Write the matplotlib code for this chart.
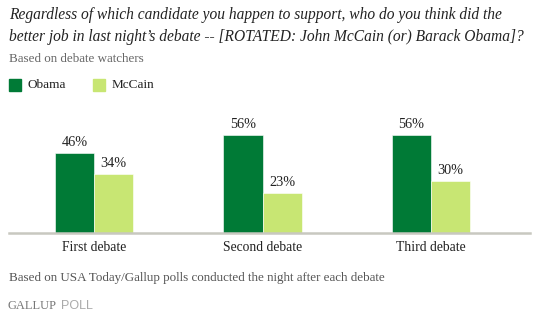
import matplotlib.pyplot as plt
import numpy as np

# data
debates = ["First debate", "Second debate", "Third debate"]
obama = [46, 56, 56]
mccain = [34, 23, 30]

dark_green = "#007a36"
light_green = "#c8e673"

plt.rcParams['font.family'] = ['Liberation Serif', 'DejaVu Serif']

fig = plt.figure(figsize=(5.34, 3.24), dpi=100)
W, H = 534, 324

def fx(px):
    return px / W

def fy(py):
    return 1 - py / H

# axes spans from the left of the baseline to its right end, top of plot area at y=110
ax = fig.add_axes([fx(9), fy(233), fx(530 - 9), (233 - 110) / H])
x = np.arange(len(debates))
w = 0.2315
ax.bar(x - w / 2, obama, w, color=dark_green, edgecolor="white", linewidth=0.4)
ax.bar(x + w / 2, mccain, w, color=light_green, edgecolor="white", linewidth=0.4)
for i in range(len(debates)):
    ax.text(x[i] - w / 2, obama[i] + 2.2, f"{obama[i]}%", ha="center", va="bottom", fontsize=10.3, color="#222222")
    ax.text(x[i] + w / 2, mccain[i] + 2.2, f"{mccain[i]}%", ha="center", va="bottom", fontsize=10.3, color="#222222")

ax.set_xlim(-0.504, 2.587)
ax.set_ylim(0, (233 - 110) / 1.75)
for s in ["top", "right", "left"]:
    ax.spines[s].set_visible(False)
ax.spines["bottom"].set_color("#c8c8c0")
ax.spines["bottom"].set_linewidth(1.8)
ax.set_yticks([])
ax.set_xticks(x)
ax.set_xticklabels(debates, fontsize=9.8, color="#222222")
ax.tick_params(axis="x", length=0, pad=6)

# title and notes
fig.text(fx(9), fy(15), "Regardless of which candidate you happen to support, who do you think did the",
         fontsize=11.2, style="italic", va="center", color="#222222")
fig.text(fx(9), fy(37), "better job in last night\u2019s debate -- [ROTATED: John McCain (or) Barack Obama]?",
         fontsize=11.2, style="italic", va="center", color="#222222")
fig.text(fx(9), fy(59), "Based on debate watchers", fontsize=9.4, va="center", color="#666666")

# legend
fig.patches.append(plt.Rectangle((fx(9), fy(91)), fx(12), 12 / H, transform=fig.transFigure, color=dark_green))
fig.text(fx(28), fy(85), "Obama", fontsize=9.5, va="center", color="#222222")
fig.patches.append(plt.Rectangle((fx(93), fy(91)), fx(12), 12 / H, transform=fig.transFigure, color=light_green))
fig.text(fx(112), fy(85), "McCain", fontsize=9.5, va="center", color="#222222")

fig.text(fx(9), fy(278), "Based on USA Today/Gallup polls conducted the night after each debate",
         fontsize=9.4, va="center", color="#555555")
fig.text(fx(7), fy(306), "GALLUP", fontsize=9, va="center", color="#777777", family="Liberation Serif")
fig.text(fx(61), fy(306), "POLL", fontsize=9, va="center", color="#aaaaaa", family="Liberation Sans")

fig.savefig("out.png", dpi=100)
